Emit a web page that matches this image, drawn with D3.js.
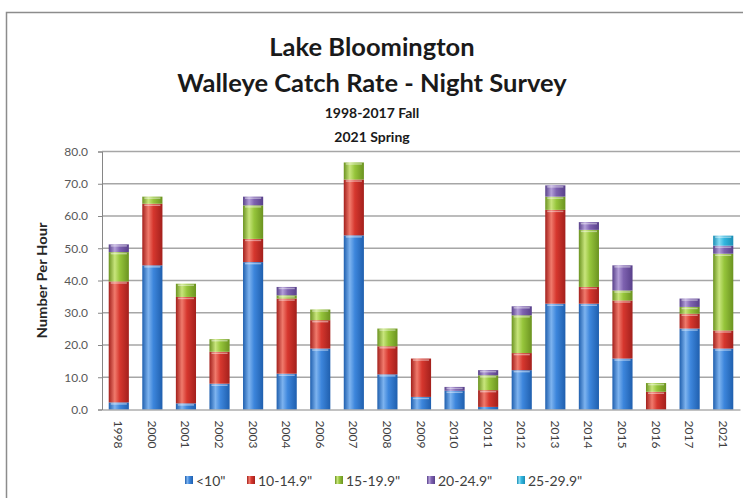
<!DOCTYPE html>
<html>
<head>
<meta charset="utf-8">
<script src="https://cdn.jsdelivr.net/npm/d3@7"></script>
<style>
  html, body { margin: 0; padding: 0; background: #fff; }
  svg { display: block; font-family: Lato, "Open Sans", sans-serif; }
</style>
</head>
<body>
<svg id="chart" width="743" height="498"></svg>
<script>
// ---- data ----
const years = ["1998","2000","2001","2002","2003","2004","2006","2007","2008","2009","2010","2011","2012","2013","2014","2015","2016","2017","2021"];
const seriesNames = ["<10\"", "10-14.9\"", "15-19.9\"", "20-24.9\"", "25-29.9\""];
const under10   = [2.2, 44.7, 1.9, 8.0, 45.7, 11.1, 18.9, 54.0, 10.9, 3.9, 5.8, 0.8, 12.2, 32.8, 32.8, 15.8, 0.0, 25.1, 18.9];
const len10to15 = [37.5, 19.1, 33.0, 9.9, 7.2, 23.3, 8.8, 17.3, 8.7, 11.9, 0.0, 5.2, 5.3, 29.1, 5.2, 18.0, 5.5, 4.6, 5.6];
const len15to20 = [9.1, 2.2, 4.1, 3.9, 10.4, 1.0, 3.3, 5.3, 5.5, 0.0, 0.0, 4.6, 11.7, 4.1, 17.7, 3.1, 2.7, 2.1, 23.8];
const len20to25 = [2.4, 0.0, 0.0, 0.0, 2.7, 2.6, 0.0, 0.0, 0.0, 0.0, 1.2, 1.6, 2.8, 3.5, 2.4, 7.8, 0.0, 2.6, 2.5];
const len25to30 = [0.0, 0.0, 0.0, 0.0, 0.0, 0.0, 0.0, 0.0, 0.0, 0.0, 0.0, 0.0, 0.0, 0.0, 0.0, 0.0, 0.0, 0.0, 3.1];
const yTicks = [0, 10, 20, 30, 40, 50, 60, 70, 80];
const titleLines = ["Lake Bloomington", "Walleye Catch Rate - Night Survey"];
const subtitleLines = ["1998-2017 Fall", "2021 Spring"];
const yAxisTitle = "Number Per Hour";

const seriesValues = [under10, len10to15, len15to20, len20to25, len25to30];
const colors = [
  {dark:"#1f5fae", mid:"#3d86dc", light:"#7db3ef"},
  {dark:"#a3201c", mid:"#d6372e", light:"#f07a6c"},
  {dark:"#6b9320", mid:"#96c53b", light:"#c8e57c"},
  {dark:"#58408a", mid:"#7e62b0", light:"#b39fd8"},
  {dark:"#1a8db4", mid:"#33b6df", light:"#86dcf4"}
];

const table = years.map((y, i) => {
  const row = {year: y};
  seriesNames.forEach((s, k) => row[s] = seriesValues[k][i]);
  return row;
});
const stacked = d3.stack().keys(seriesNames)(table);

const svg = d3.select("#chart");
const defs = svg.append("defs");
colors.forEach((c, k) => {
  const g = defs.append("linearGradient").attr("id", "grad" + k)
    .attr("x1", "0%").attr("x2", "100%").attr("y1", "0%").attr("y2", "0%");
  g.append("stop").attr("offset", "0%").attr("stop-color", c.dark);
  g.append("stop").attr("offset", "30%").attr("stop-color", c.light);
  g.append("stop").attr("offset", "55%").attr("stop-color", c.mid);
  g.append("stop").attr("offset", "100%").attr("stop-color", c.dark);
});

// chart frame
svg.append("rect").attr("x", 6.5).attr("y", 12.5).attr("width", 800).attr("height", 600)
  .attr("fill", "#fff").attr("stroke", "#8c8c8c").attr("stroke-width", 1.5);

const plot = {left: 102, right: 740, top: 151.5, bottom: 409.5};
const x = d3.scaleBand().domain(years).range([plot.left, plot.right]).paddingInner(0.4).paddingOuter(0.2);
const y = d3.scaleLinear().domain([0, 80]).range([plot.bottom, plot.top]);

// gridlines
svg.append("g").selectAll("line").data(yTicks.filter(d => d > 0)).join("line")
  .attr("x1", plot.left).attr("x2", plot.right)
  .attr("y1", d => y(d)).attr("y2", d => y(d))
  .attr("stroke", "#a6a6a6").attr("stroke-width", 1.5);

// y axis
const yAxis = d3.axisLeft(y).tickValues(yTicks).tickFormat(d3.format(".1f")).tickSize(4).tickPadding(10);
const gy = svg.append("g").attr("transform", `translate(${plot.left},0)`).call(yAxis);
gy.select(".domain").attr("stroke", "#868686");
gy.selectAll(".tick line").attr("stroke", "#868686");
gy.selectAll(".tick text").attr("fill", "#595959").style("font-size", "12px").style("font-family", "Lato, sans-serif");

// bars
const layers = svg.append("g").selectAll("g").data(stacked).join("g")
  .attr("fill", (d, k) => `url(#grad${k})`);
layers.selectAll("rect").data(d => d.filter(p => p[1] - p[0] > 0)).join("rect")
  .attr("x", d => x(d.data.year))
  .attr("width", x.bandwidth())
  .attr("y", d => y(d[1]))
  .attr("height", d => y(d[0]) - y(d[1]));
// top highlight on each segment
layers.selectAll("line.hl").data(d => d.filter(p => p[1] - p[0] > 0.8)).join("line")
  .attr("class", "hl")
  .attr("x1", d => x(d.data.year) + 2).attr("x2", d => x(d.data.year) + x.bandwidth() - 2)
  .attr("y1", d => y(d[1]) + 1.5).attr("y2", d => y(d[1]) + 1.5)
  .attr("stroke", "#ffffff").attr("stroke-opacity", 0.45).attr("stroke-width", 1.5);

// x axis
const xAxis = d3.axisBottom(x).tickSize(0).tickPadding(0);
const gx = svg.append("g").attr("transform", `translate(0,${plot.bottom})`).call(xAxis);
gx.select(".domain").attr("stroke", "#868686");
gx.selectAll(".tick text")
  .attr("transform", "translate(0,11) rotate(90)")
  .attr("text-anchor", "start")
  .attr("dy", null).attr("y", 0).attr("x", 0)
  .attr("dominant-baseline", "central")
  .attr("fill", "#404040")
  .style("font-size", "12px").style("font-family", "Lato, sans-serif");

// y axis title
svg.append("text")
  .attr("transform", `translate(47,${(plot.top + plot.bottom) / 2}) rotate(-90)`)
  .attr("text-anchor", "middle")
  .attr("fill", "#262626")
  .attr("textLength", 116).attr("lengthAdjust", "spacingAndGlyphs")
  .style("font-size", "13px").style("font-weight", "bold")
  .text(yAxisTitle);

// titles
const cx = 372;
svg.append("text").attr("x", cx).attr("y", 56).attr("text-anchor", "middle")
  .attr("fill", "#1a1a1a").style("font-size", "25.5px").style("font-weight", "bold").text(titleLines[0]);
svg.append("text").attr("x", cx).attr("y", 92).attr("text-anchor", "middle")
  .attr("fill", "#1a1a1a").style("font-size", "25.5px").style("font-weight", "bold").text(titleLines[1]);
svg.append("text").attr("x", cx).attr("y", 118).attr("text-anchor", "middle")
  .attr("fill", "#1a1a1a").style("font-size", "14px").style("font-weight", "bold").text(subtitleLines[0]);
svg.append("text").attr("x", cx).attr("y", 142).attr("text-anchor", "middle")
  .attr("fill", "#1a1a1a").style("font-size", "14px").style("font-weight", "bold").text(subtitleLines[1]);

// legend
const legendX = [185, 247, 335, 427, 517];
const lg = svg.append("g").selectAll("g").data(seriesNames).join("g")
  .attr("transform", (d, k) => `translate(${legendX[k]},480)`);
lg.append("rect").attr("x", 0).attr("y", -4).attr("width", 8).attr("height", 8)
  .attr("fill", (d, k) => `url(#grad${k})`);
lg.append("text").attr("x", 11).attr("y", 0).attr("dominant-baseline", "central")
  .attr("fill", "#404040").style("font-size", "14px").text(d => d);
</script>
</body>
</html>
